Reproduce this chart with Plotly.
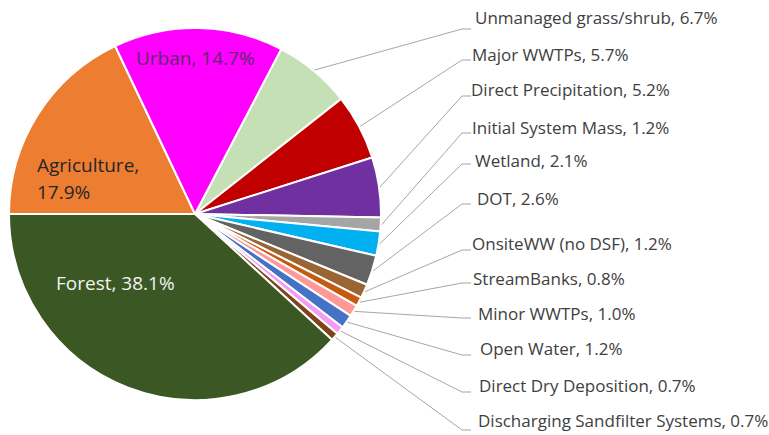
import math
import plotly.graph_objects as go

# ---- data ----
labels = ["Unmanaged grass/shrub", "Major WWTPs", "Direct Precipitation", "Initial System Mass",
          "Wetland", "DOT", "OnsiteWW (no DSF)", "StreamBanks", "Minor WWTPs", "Open Water",
          "Direct Dry Deposition", "Discharging Sandfilter Systems", "Forest", "Agriculture", "Urban"]
values = [6.7, 5.7, 5.2, 1.2, 2.1, 2.6, 1.2, 0.8, 1.0, 1.2, 0.7, 0.7, 38.1, 17.9, 14.7]
colors = ["#C5E0B4", "#C00000", "#7030A0", "#A5A5A5", "#00B0F0", "#636363", "#996633",
          "#C55A11", "#FF9999", "#4472C4", "#F29CF2", "#7F4419", "#3B5724", "#ED7D31", "#FF00FF"]
outside_labels = labels[:12]
inside_labels = ["Forest", "Agriculture", "Urban"]

# ---- layout geometry (pixels) ----
W, H = 769, 435
cx, cy, R = 195, 214, 186
line_y = [29, 60, 96, 133, 164, 204, 250, 283, 318, 355, 392, 430]
text_y = [18, 54, 89, 127, 160, 198, 243, 278, 313, 348, 385, 420]
text_x = [473, 470, 469, 470, 473, 475, 470, 471, 476, 478, 477, 476]
elbow_x, end_x = 462, 471

def px(x):
    return x / W

def py(y):
    return 1 - y / H

total = sum(values)
# Forest ends at 9 o'clock (270 deg clockwise from top)
idx_forest = labels.index("Forest")
rotation = 270 - 360 * sum(values[:idx_forest + 1]) / total

fig = go.Figure(go.Pie(
    labels=labels, values=values, sort=False, direction="clockwise",
    rotation=rotation, textinfo="none", hoverinfo="label+percent",
    marker=dict(colors=colors, line=dict(color="white", width=2)),
    domain=dict(x=[(cx - R) / W, (cx + R) / W], y=[py(cy + R), py(cy - R)]),
    showlegend=False,
))

font_family = "Open Sans, sans-serif"
shapes = []
annotations = []
cum = 0
for i, (lab, v) in enumerate(zip(labels, values)):
    mid = math.radians(rotation + 360 * (cum + v / 2) / total)
    cum += v
    if lab in outside_labels:
        sx = cx + (R + 1) * math.sin(mid)
        sy = cy - (R + 1) * math.cos(mid)
        k = outside_labels.index(lab)
        path = f"M {px(sx)} {py(sy)} L {px(elbow_x)} {py(line_y[k])} L {px(end_x)} {py(line_y[k])}"
        shapes.append(dict(type="path", path=path, xref="paper", yref="paper",
                           line=dict(color="#A6A6A6", width=1)))
        annotations.append(dict(x=px(text_x[k]), y=py(text_y[k]), xref="paper", yref="paper",
                                text=f"{lab}, {v:.1f}%", showarrow=False, xanchor="left",
                                yanchor="middle", font=dict(size=17, color="#404040",
                                                             family=font_family)))

# inside labels
vals = dict(zip(labels, values))
in_size = 19
annotations.append(dict(x=px(195), y=py(58), xref="paper", yref="paper",
                        xanchor="center", yanchor="middle",
                        text=f"Urban, {vals['Urban']:.1f}%", showarrow=False,
                        font=dict(size=in_size, color="#5A2A6A", family=font_family)))
annotations.append(dict(x=px(35), y=py(165), xref="paper", yref="paper",
                        xanchor="left", yanchor="middle",
                        text="Agriculture,", showarrow=False,
                        font=dict(size=in_size, color="#262626", family=font_family)))
annotations.append(dict(x=px(35), y=py(192), xref="paper", yref="paper",
                        xanchor="left", yanchor="middle",
                        text=f"{vals['Agriculture']:.1f}%", showarrow=False,
                        font=dict(size=in_size, color="#262626", family=font_family)))
annotations.append(dict(x=px(115), y=py(283), xref="paper", yref="paper",
                        xanchor="center", yanchor="middle",
                        text=f"Forest, {vals['Forest']:.1f}%", showarrow=False,
                        font=dict(size=in_size, color="#F2F2F2", family=font_family)))

fig.update_layout(width=W, height=H, margin=dict(l=0, r=0, t=0, b=0),
                  paper_bgcolor="white", plot_bgcolor="white",
                  shapes=shapes, annotations=annotations)
fig.write_html("out.html")
